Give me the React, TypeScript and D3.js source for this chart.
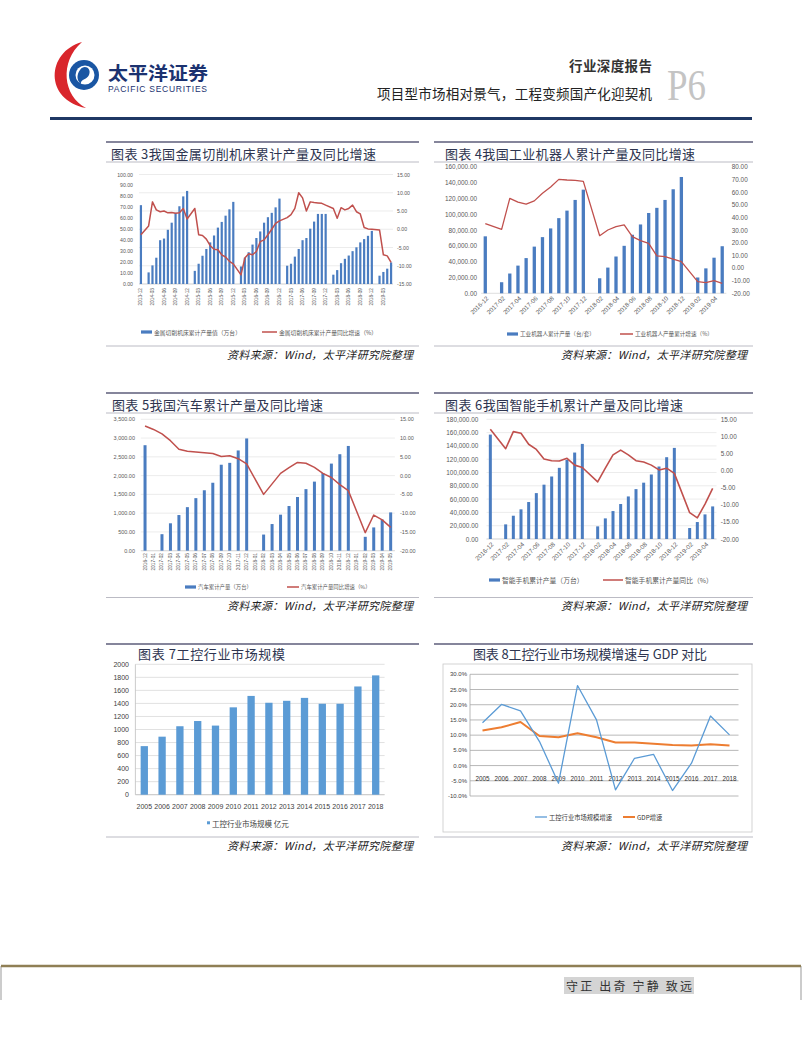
import * as d3 from "d3";

const NUM = "'Liberation Sans', Arial, sans-serif";
const CJK = "'Noto Sans CJK SC', 'Noto Sans', sans-serif";

const loc = d3.formatLocale({ decimal: ".", thousands: ",", grouping: [3], currency: ["", ""], minus: "-" });
const f2 = loc.format(",.2f");
const f1 = loc.format(".1f");

function months(start: string, n: number) {
  const [y, m] = start.split("-").map(Number);
  return d3.range(n).map((i) => {
    const t = y * 12 + (m - 1) + i;
    return `${Math.floor(t / 12)}-${String((t % 12) + 1).padStart(2, "0")}`;
  });
}

// 图表3 金属切削机床
const c3Cats = months("2013-12", 66);
const c3Bars = [
  72, null, 10.6, 17, 24, 40, 41.5, 49.5, 56, 65, 71, 80, 85,
  null, 12, 18.5, 25.8, 32, 38, 44.3, 51.5, 56.7, 62.4, 68.2, 75,
  null, 16, 24, 29, 36, 42, 48, 56, 61, 65, 70, 78,
  null, 16.7, 18.5, 25, 32, 40, 42, 50.5, 57, 64, 64, 64,
  null, 8.5, 12.7, 19, 23, 26, 30, 33.5, 38, 41, 44, 48.5,
  null, 7.6, 11, 14, 19.7,
];
const c3Line = [
  -1.5, null, 0.9, 7.5, 5.3, 4.8, 5.0, 4.5, 4.6, 4.4, 4.5, 5.7, 2.8,
  null, 5.7, -1.5, -1.7, -2.7, -4.5, -5.5, -5.6, -7.0, -7.6, -8.8, -9.5,
  null, -12.5, -7.9, -6.7, -7.0, -6.1, -3.4, -2.9, -1.5, 0, 1.6, 2.3,
  null, 3.2, 4.0, 5.7, 10.0, 8.6, 5.0, 7.5, 7.3, 7.2, 7.1, 6.6,
  null, 5.7, 3.0, 5.9, 5.3, 5.7, 6.6, 4.8, 4.2, 0.5, 0.1, 0,
  null, -0.2, -7.0, -7.3, -9.1,
];

// 图表4 工业机器人
const c4Cats = months("2016-12", 30);
const c4Bars = [
  72000, null, 14000, 25000, 35000, 44500, 59000, 71000, 82000, 95000, 104500, 118000, 131000,
  null, 19000, 32500, 46500, 60000, 74000, 87000, 101500, 108000, 118000, 131500, 147000,
  null, 20000, 31500, 45000, 59500,
];
const c4Line = [
  35, null, 30.5, 55, 52, 50.5, 53, 59, 64, 70, 69.5, 69.2, 68.4,
  null, 25.5, 30, 32.6, 34, 24.7, 21.6, 19.5, 9.5, 9, 7, 5,
  null, -10.8, -11.6, -10, -12.1,
];

// 图表5 汽车
const c5Cats = months("2016-12", 30);
const c5Bars = [
  2810, null, 440, 730, 950, 1160, 1400, 1610, 1810, 2290, 2340, 2670, 2990,
  null, 430, 710, 960, 1190, 1430, 1640, 1840, 2070, 2320, 2570, 2790,
  null, 370, 620, 830, 1020,
];
const c5Line = [
  13.2, 12.3, 11.1, 9.3, 7.0, 6.5, 6.3, 6.1, 5.9, 5.1, 5.3, 4.5, 3.1,
  null, -5.0, -2.2, 0.6, 2.1, 3.5, 3.3, 2.2, 0.6, -0.5, -2.4, -4.0,
  null, -15.2, -10.5, -11.8, -13.8,
];

// 图表6 智能手机
const c6Cats = months("2016-12", 30);
const c6Bars = [
  157000, null, 22000, 35000, 44600, 55600, 69000, 81700, 94000, 107000, 119000, 130000, 143000,
  null, 19000, 31000, 42000, 52600, 64000, 75000, 84700, 97000, 109000, 123000, 137000,
  null, 16500, 25500, 37000, 49000,
];
const c6Line = [
  12.1, null, 6.4, 11.4, 10.9, 7.7, 6.2, 3.4, 2.9, 2.8, 3.6, 1.6, 0.9,
  null, -3.3, 0.7, 4.6, 6.0, 4.6, 2.9, 2.5, 1.6, 0.2, 0.7, -0.8,
  null, -12.3, -13.8, -9.8, -5.2,
];

// 图表7/8 工控行业
const years = ["2005", "2006", "2007", "2008", "2009", "2010", "2011", "2012", "2013", "2014", "2015", "2016", "2017", "2018"];
const c7Market = [745, 890, 1050, 1130, 1060, 1340, 1515, 1410, 1440, 1485, 1395, 1395, 1660, 1830];
const c8Growth = [14.1, 20.1, 18.0, 7.9, -5.8, 26.3, 15.0, -8.0, 2.4, 3.7, -8.2, 0.8, 16.3, 10.1];
const c8Gdp = [11.5, 12.6, 14.3, 9.7, 9.3, 10.6, 9.3, 7.6, 7.6, 7.2, 6.8, 6.6, 7.0, 6.6];

const BAR = "#4a7cc0";
const RED = "#c0504d";
const GRAY = "#595959";

type ComboProps = {
  cats: string[];
  bars: (number | null)[];
  line: (number | null)[];
  x0: number; x1: number; yT: number; yB: number;
  lMax: number; lStep: number; rMin: number; rMax: number; rStep: number;
  lX: number; rX: number; axisFont: number;
  grid: "left" | "right" | "none";
  every: number; rot: number; labY: number; labFont: number;
  barW: number; lineW: number;
  legY: number; legFont: number;
  legBarX: number; legBarText: string; legLineX: number; legLineW: number; legLineText: string;
};

function Combo(p: ComboProps) {
  const idx = d3.range(p.cats.length);
  const x = d3.scaleBand<number>().domain(idx).range([p.x0, p.x1]);
  const cx = (i: number) => (x(i) as number) + x.bandwidth() / 2;
  const yL = d3.scaleLinear().domain([0, p.lMax]).range([p.yB, p.yT]);
  const yR = d3.scaleLinear().domain([p.rMin, p.rMax]).range([p.yB, p.yT]);
  const lTicks = d3.range(0, p.lMax + 1e-6, p.lStep);
  const rTicks = d3.range(p.rMin, p.rMax + 1e-6, p.rStep);
  const grid = p.grid === "left" ? lTicks.map(yL) : p.grid === "right" ? rTicks.map(yR) : [];
  const pts = idx.filter((i) => p.line[i] != null).map((i) => [i, p.line[i] as number] as [number, number]);
  const path = d3.line<[number, number]>().x((d) => cx(d[0])).y((d) => yR(d[1]))(pts) || "";
  return (
    <g>
      {grid.map((gy, i) => (
        <line key={"g" + i} x1={p.x0} x2={p.x1} y1={gy} y2={gy} stroke="#e4e4e4" strokeWidth={0.7} />
      ))}
      <line x1={p.x0} x2={p.x1} y1={p.yB} y2={p.yB} stroke="#d0d0d0" strokeWidth={0.7} />
      {lTicks.map((t) => (
        <text key={"l" + t} x={p.lX} y={yL(t)} fontSize={p.axisFont} fontFamily={NUM} fill={GRAY} textAnchor="end" dominantBaseline="central">
          {f2(t)}
        </text>
      ))}
      {rTicks.map((t) => (
        <text key={"r" + t} x={p.rX} y={yR(t)} fontSize={p.axisFont} fontFamily={NUM} fill={GRAY} dominantBaseline="central">
          {f2(t)}
        </text>
      ))}
      {idx.map((i) =>
        p.bars[i] == null ? null : (
          <rect key={"b" + i} x={cx(i) - p.barW / 2} width={p.barW} y={yL(p.bars[i] as number)} height={p.yB - yL(p.bars[i] as number)} fill={BAR} />
        )
      )}
      <path d={path} fill="none" stroke={RED} strokeWidth={p.lineW} strokeLinejoin="round" />
      {idx.filter((i) => i % p.every === 0).map((i) => (
        <text
          key={"x" + i}
          transform={`translate(${cx(i) + (p.rot === -90 ? 0 : 2)},${p.labY}) rotate(${p.rot})`}
          fontSize={p.labFont}
          fontFamily={NUM}
          fill={GRAY}
          textAnchor="end"
          dominantBaseline="central"
        >
          {p.cats[i]}
        </text>
      ))}
      <rect x={p.legBarX} y={p.legY - 1.6} width={11} height={3.2} fill={BAR} />
      <text x={p.legBarX + 13} y={p.legY} fontSize={p.legFont} fontFamily={CJK} fill={GRAY} dominantBaseline="central">
        {p.legBarText}
      </text>
      <line x1={p.legLineX} x2={p.legLineX + p.legLineW} y1={p.legY} y2={p.legY} stroke={RED} strokeWidth={1.5} />
      <text x={p.legLineX + p.legLineW + 2} y={p.legY} fontSize={p.legFont} fontFamily={CJK} fill={GRAY} dominantBaseline="central">
        {p.legLineText}
      </text>
    </g>
  );
}

function Section(props: { x0: number; x1: number; top: number; title: string; tx: number; tw: number; ty: number; under: number | null; srcLine: number; srcY: number }) {
  const { x0, x1, top, title, tx, tw, ty, under, srcLine, srcY } = props;
  return (
    <g>
      <line x1={x0} x2={x1} y1={top} y2={top} stroke="#5d5d7a" strokeWidth={1.6} />
      <text x={tx} y={ty} fontSize={13} fontFamily={CJK} fill="#2e3550" dominantBaseline="central" textLength={tw} lengthAdjust="spacing">
        {title}
      </text>
      {under != null && <line x1={x0} x2={x1} y1={under} y2={under} stroke="#a9a9b5" strokeWidth={0.8} />}
      <line x1={x0} x2={x1} y1={srcLine} y2={srcLine} stroke="#a9a9b5" strokeWidth={0.8} />
      <text x={x1 - 6 - 186} y={srcY} fontSize={11} fontFamily={CJK} fontStyle="italic" fill="#222" dominantBaseline="central" textLength={186} lengthAdjust="spacing">
        资料来源：Wind，太平洋研究院整理
      </text>
    </g>
  );
}

function Chart7() {
  const x = d3.scaleBand<string>().domain(years).range([135.4, 384.6]);
  const y = d3.scaleLinear().domain([0, 2000]).range([794.7, 664.3]);
  const ticks = d3.range(0, 2001, 200);
  const bw = 7.3;
  return (
    <g>
      {ticks.map((t) => (
        <line key={t} x1={135.4} x2={384.6} y1={y(t)} y2={y(t)} stroke="#d9d9d9" strokeWidth={0.8} />
      ))}
      <line x1={135.4} x2={135.4} y1={664.3} y2={794.7} stroke="#bfbfbf" strokeWidth={0.8} />
      <line x1={135.4} x2={384.6} y1={794.7} y2={794.7} stroke="#bfbfbf" strokeWidth={0.8} />
      {ticks.map((t) => (
        <text key={"t" + t} x={129} y={y(t)} fontSize={7} fontFamily={NUM} fill="#404040" textAnchor="end" dominantBaseline="central">
          {t}
        </text>
      ))}
      {years.map((yr, i) => (
        <rect key={yr} x={(x(yr) as number) + x.bandwidth() / 2 - bw / 2} width={bw} y={y(c7Market[i])} height={794.7 - y(c7Market[i])} fill="#5b9bd5" />
      ))}
      {years.map((yr) => (
        <text key={"x" + yr} x={(x(yr) as number) + x.bandwidth() / 2} y={806} fontSize={7} fontFamily={NUM} fill="#404040" textAnchor="middle" dominantBaseline="central">
          {yr}
        </text>
      ))}
      <rect x={207} y={821.3} width={3} height={3} fill="#5b9bd5" />
      <text x={212} y={823} fontSize={7.5} fontFamily={CJK} fill="#404040" dominantBaseline="central">
        工控行业市场规模 亿元
      </text>
    </g>
  );
}

function Chart8() {
  const x = d3.scaleBand<string>().domain(years).range([473, 739]);
  const cx = (yr: string) => (x(yr) as number) + x.bandwidth() / 2;
  const y = d3.scaleLinear().domain([-10, 30]).range([796, 674.3]);
  const ticks = d3.range(-10, 30.001, 5);
  const ln = (vals: number[]) =>
    d3.line<number>().x((_, i) => cx(years[i])).y((v) => y(v))(vals) || "";
  return (
    <g>
      <rect x={443} y={664} width={309} height={168} fill="none" stroke="#c8c8c8" strokeWidth={0.8} />
      {ticks.map((t) => (
        <line key={t} x1={470} x2={738.5} y1={y(t)} y2={y(t)} stroke="#a6a6a6" strokeWidth={0.8} />
      ))}
      <line x1={470} x2={470} y1={674.3} y2={796} stroke="#a6a6a6" strokeWidth={0.8} />
      {ticks.map((t) => (
        <text key={"t" + t} x={467} y={y(t)} fontSize={6} fontFamily={NUM} fill="#404040" textAnchor="end" dominantBaseline="central">
          {f1(t)}%
        </text>
      ))}
      {years.map((yr) => (
        <text key={"x" + yr} x={cx(yr)} y={778.5} fontSize={6.3} fontFamily={NUM} fill="#333" textAnchor="middle" dominantBaseline="central">
          {yr}
        </text>
      ))}
      <path d={ln(c8Gdp)} fill="none" stroke="#ed7d31" strokeWidth={2} strokeLinejoin="round" />
      <path d={ln(c8Growth)} fill="none" stroke="#5b9bd5" strokeWidth={1.3} strokeLinejoin="round" />
      <line x1={535} x2={547} y1={817} y2={817} stroke="#5b9bd5" strokeWidth={1.3} />
      <text x={549} y={817} fontSize={6.3} fontFamily={CJK} fill="#333" dominantBaseline="central">
        工控行业市场规模增速
      </text>
      <line x1={623} x2={635} y1={817} y2={817} stroke="#ed7d31" strokeWidth={2} />
      <text x={637} y={817} fontSize={6.3} fontFamily={CJK} fill="#333" dominantBaseline="central">
        GDP增速
      </text>
    </g>
  );
}

function Header() {
  return (
    <g>
      <path d="M 82 42 C 46 52, 44 100, 86 108 C 63 96, 59 62, 82 42 Z" fill="#d9262c" />
      <circle cx={84} cy={75} r={15} fill="#1a56a3" />
      <circle cx={85} cy={75} r={9.5} fill="#fff" />
      <path d="M 80 70 C 84 64, 92 68, 89 75 C 87 80, 80 79, 81 84 C 76 80, 77 74, 80 70 Z" fill="#1a56a3" />
      <text x={108} y={72} fontSize={18.5} fontWeight="bold" fontFamily={CJK} fill="#1b3270" dominantBaseline="central" textLength={100} lengthAdjust="spacingAndGlyphs">
        太平洋证券
      </text>
      <text x={108} y={88.5} fontSize={8.5} fontFamily={NUM} fill="#1b3270" dominantBaseline="central" textLength={99} lengthAdjust="spacing">
        PACIFIC SECURITIES
      </text>
      <text x={569} y={65} fontSize={13.5} fontWeight="bold" fontFamily={CJK} fill="#333" dominantBaseline="central" textLength={83} lengthAdjust="spacing">
        行业深度报告
      </text>
      <text x={377} y={93} fontSize={13.5} fontFamily={CJK} fill="#222" dominantBaseline="central" textLength={275} lengthAdjust="spacing">
        项目型市场相对景气，工程变频国产化迎契机
      </text>
      <text x={667} y={100} fontSize={44} fontFamily="'Liberation Serif', serif" fill="#c4c4c4" textLength={39} lengthAdjust="spacingAndGlyphs">
        P6
      </text>
      <line x1={50} x2={752} y1={118.5} y2={118.5} stroke="#1f3864" strokeWidth={3} />
    </g>
  );
}

function Footer() {
  return (
    <g>
      <line x1={1} x2={1} y1={966} y2={1000} stroke="#999" strokeWidth={1} />
      <line x1={801} x2={801} y1={966} y2={1000} stroke="#999" strokeWidth={1} />
      <line x1={1} x2={801} y1={966} y2={966} stroke="#8f7f55" strokeWidth={2.5} />
      <rect x={564} y={977} width={130} height={17} fill="#d4d4d4" />
      <text x={566} y={985.5} fontSize={12} fontFamily={CJK} fill="#333" dominantBaseline="central" textLength={126} lengthAdjust="spacing">
        守正 出奇 宁静 致远
      </text>
    </g>
  );
}

export default function App() {
  return (
    <svg width={802} height={1037} style={{ position: "absolute", left: 0, top: 0, background: "#fff" }}>
      <rect width={802} height={1037} fill="#fff" />
      <Header />

      <Section x0={106} x1={419} top={142} title="图表 3我国金属切削机床累计产量及同比增速" tx={111} tw={265} ty={153.3} under={162} srcLine={346} srcY={353.5} />
      <Section x0={434} x1={753} top={142} title="图表 4我国工业机器人累计产量及同比增速" tx={445} tw={250} ty={153.3} under={162} srcLine={346} srcY={353.5} />
      <Section x0={106} x1={419} top={393} title="图表 5我国汽车累计产量及同比增速" tx={112} tw={211} ty={404.5} under={413} srcLine={597.5} srcY={605} />
      <Section x0={434} x1={753} top={393} title="图表 6我国智能手机累计产量及同比增速" tx={445} tw={238} ty={404.5} under={413} srcLine={597.5} srcY={605} />
      <Section x0={106} x1={419} top={644} title="图表 7工控行业市场规模" tx={138} tw={147} ty={653.5} under={null} srcLine={837} srcY={845} />
      <Section x0={434} x1={753} top={644} title="图表 8工控行业市场规模增速与 GDP 对比" tx={473} tw={234} ty={653.5} under={null} srcLine={837} srcY={845} />

      <Combo
        cats={c3Cats} bars={c3Bars} line={c3Line}
        x0={139} x1={393} yT={174.5} yB={284}
        lMax={100} lStep={10} rMin={-15} rMax={15} rStep={5}
        lX={133} rX={397} axisFont={5.2} grid="right"
        every={3} rot={-90} labY={288} labFont={4.8}
        barW={2.2} lineW={1.5}
        legY={332} legFont={5.8}
        legBarX={141} legBarText="金属切削机床累计产量值（万台）"
        legLineX={262} legLineW={15} legLineText="金属切削机床累计产量同比增速（%）"
      />
      <Combo
        cats={c4Cats} bars={c4Bars} line={c4Line}
        x0={481.2} x1={726.3} yT={166.7} yB={293.3}
        lMax={160000} lStep={20000} rMin={-20} rMax={80} rStep={10}
        lX={477} rX={731.7} axisFont={6.4} grid="none"
        every={2} rot={-45} labY={297} labFont={6.2}
        barW={3.3} lineW={1.3}
        legY={334} legFont={5.6}
        legBarX={507} legBarText="工业机器人累计产量（台/套）"
        legLineX={620} legLineW={13} legLineText="工业机器人产量累计增速（%）"
      />
      <Combo
        cats={c5Cats} bars={c5Bars} line={c5Line}
        x0={140.8} x1={394.9} yT={419.3} yB={550.7}
        lMax={3500} lStep={500} rMin={-20} rMax={15} rStep={5}
        lX={135} rX={400} axisFont={5.5} grid="left"
        every={1} rot={-90} labY={553} labFont={4.8}
        barW={3} lineW={1.5}
        legY={587} legFont={5.4}
        legBarX={185} legBarText="汽车累计产量（万台）"
        legLineX={287} legLineW={12} legLineText="汽车累计产量同比增速（%）"
      />
      <Combo
        cats={c6Cats} bars={c6Bars} line={c6Line}
        x0={486.5} x1={716.5} yT={419.3} yB={539}
        lMax={180000} lStep={20000} rMin={-20} rMax={15} rStep={5}
        lX={478.3} rX={720.7} axisFont={6.4} grid="left"
        every={2} rot={-45} labY={543} labFont={6.3}
        barW={3} lineW={1.6}
        legY={580} legFont={6.8}
        legBarX={489} legBarText="智能手机累计产量（万台）"
        legLineX={603} legLineW={20} legLineText="智能手机累计产量同比（%）"
      />
      <Chart7 />
      <Chart8 />
      <Footer />
    </svg>
  );
}
